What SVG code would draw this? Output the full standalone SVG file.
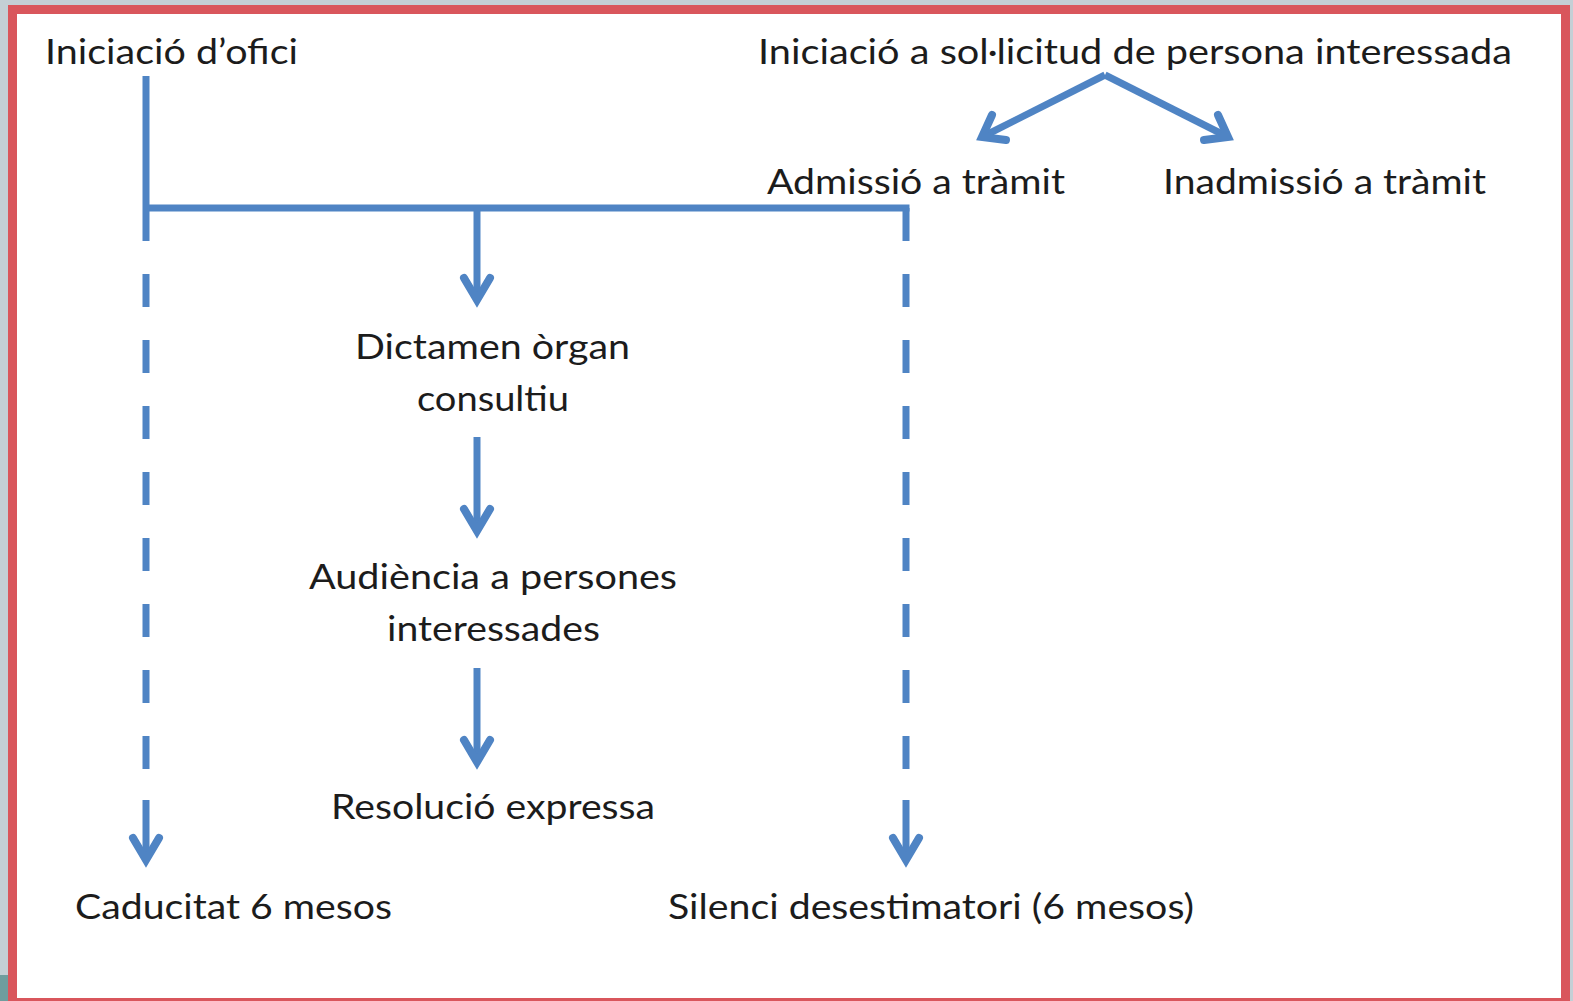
<svg xmlns="http://www.w3.org/2000/svg" width="1573" height="1001" viewBox="0 0 1573 1001">
<style>
.t{font-family:Lato,"Open Sans","Liberation Sans",sans-serif;font-size:35px;fill:#1c1c1c}
.c{fill:none;stroke:#4f84c4;stroke-width:7;stroke-linecap:butt}
.d{stroke-dasharray:33 33}
.h{fill:none;stroke:#4f84c4;stroke-width:8;stroke-linejoin:miter;stroke-linecap:round}
</style>
<rect x="0" y="0" width="1573" height="1001" fill="#c4cfd5"/>
<rect x="0" y="975" width="10" height="26" fill="#6f9d9e"/>
<rect x="12.5" y="9.5" width="1553" height="993" fill="#ffffff" stroke="#d9565c" stroke-width="9"/>
<g id="connectors">
<path class="c" d="M146 76 V208 M146 208 H909.5"/>
<path class="c d" d="M146 208 V770"/>
<path class="c d" d="M906 204.5 V770" stroke-dashoffset="-3.5"/>
<path class="c" d="M146 800 V860"/><path class="h" d="M133 838 L146 860 L159 838"/>
<path class="c" d="M906 800 V860"/><path class="h" d="M893 838 L906 860 L919 838"/>
<path class="c" d="M477 208 V300"/><path class="h" d="M464 278 L477 300 L490 278"/>
<path class="c" d="M477 437 V531"/><path class="h" d="M464 509 L477 531 L490 509"/>
<path class="c" d="M477 668 V762"/><path class="h" d="M464 740 L477 762 L490 740"/>
<path class="c" d="M1105 75 L982 137"/><path class="h" d="M992 115 L982 137 L1006 140"/>
<path class="c" d="M1105 75 L1228 137"/><path class="h" d="M1218 115 L1228 137 L1204 140"/>
</g>
<g id="n1"><text class="t" x="45" y="64" textLength="253" lengthAdjust="spacingAndGlyphs">Iniciació d’ofici</text></g>
<g id="n2"><text class="t" x="758" y="64" textLength="754" lengthAdjust="spacingAndGlyphs">Iniciació a sol·licitud de persona interessada</text></g>
<g id="n3"><text class="t" x="767" y="194" textLength="298" lengthAdjust="spacingAndGlyphs">Admissió a tràmit</text></g>
<g id="n4"><text class="t" x="1163" y="194" textLength="323" lengthAdjust="spacingAndGlyphs">Inadmissió a tràmit</text></g>
<g id="n5"><text class="t" x="355" y="359" textLength="275" lengthAdjust="spacingAndGlyphs">Dictamen òrgan</text><text class="t" x="417" y="411" textLength="152" lengthAdjust="spacingAndGlyphs">consultiu</text></g>
<g id="n6"><text class="t" x="309" y="589" textLength="368" lengthAdjust="spacingAndGlyphs">Audiència a persones</text><text class="t" x="387" y="641" textLength="213" lengthAdjust="spacingAndGlyphs">interessades</text></g>
<g id="n7"><text class="t" x="331" y="819" textLength="324" lengthAdjust="spacingAndGlyphs">Resolució expressa</text></g>
<g id="n8"><text class="t" x="75" y="919" textLength="317" lengthAdjust="spacingAndGlyphs">Caducitat 6 mesos</text></g>
<g id="n9"><text class="t" x="668" y="919" textLength="526" lengthAdjust="spacingAndGlyphs">Silenci desestimatori (6 mesos)</text></g>
</svg>
